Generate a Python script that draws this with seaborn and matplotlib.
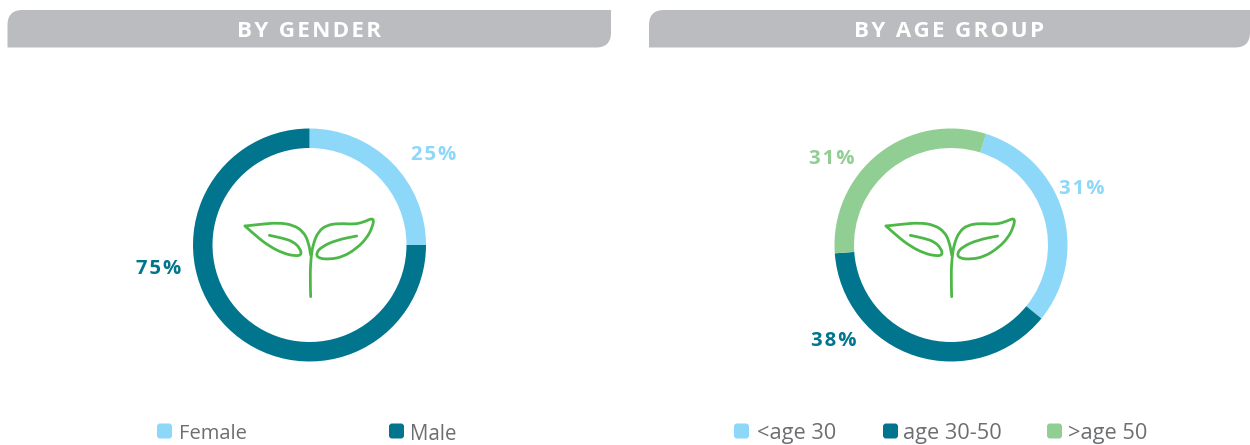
import numpy as np
import matplotlib
matplotlib.use("Agg")
import matplotlib.pyplot as plt
from matplotlib.path import Path
from matplotlib.patches import PathPatch, FancyBboxPatch
import seaborn as sns

gender_labels = ["Female", "Male"]
gender_values = [25, 75]
age_labels = ["<age 30", "age 30-50", ">age 50"]
age_values = [31, 38, 31]
titles = ["BY GENDER", "BY AGE GROUP"]

LIGHT, TEAL, GREEN = "#8DD7F9", "#00758D", "#90CE93"
sns.set_theme(style="white")
plt.rcParams["font.family"] = ["Open Sans", "DejaVu Sans"]
W, H = 1250, 445
HAIR = "\u200a"
fig = plt.figure(figsize=(W / 100, H / 100), dpi=100, facecolor="white")
bg = fig.add_axes([0, 0, 1, 1])
bg.set_xlim(0, W); bg.set_ylim(H, 0); bg.axis("off")

def header(x0, x1, y0, y1, r, text):
    verts = [(x0, y1), (x0, y0 + r), (x0, y0), (x0 + r, y0), (x1, y0), (x1, y1 - r),
             (x1, y1), (x1 - r, y1), (x0, y1), (x0, y1)]
    codes = [Path.MOVETO, Path.LINETO, Path.CURVE3, Path.CURVE3, Path.LINETO, Path.LINETO,
             Path.CURVE3, Path.CURVE3, Path.LINETO, Path.CLOSEPOLY]
    bg.add_patch(PathPatch(Path(verts, codes), fc="#BBBCBF", ec="none"))
    bg.text((x0 + x1) / 2, (y0 + y1) / 2 + 2.5, HAIR.join(text), color="white", fontsize=16.2,
            fontweight="bold", ha="center", va="center")

header(7.5, 611, 10, 47.5, 15, titles[0])
header(649, 1250, 10, 47.5, 15, titles[1])

def donut(cx, cy, values, colors, start):
    R = 116.5
    ax = fig.add_axes([(cx - R) / W, 1 - (cy + R) / H, 2 * R / W, 2 * R / H])
    ax.pie(values, colors=colors, startangle=start, counterclock=False, radius=1,
           wedgeprops=dict(width=19.5 / R, linewidth=0))
    ax.set_xlim(-1, 1); ax.set_ylim(-1, 1)
    ax.set_aspect("equal"); ax.axis("off")

donut(309.5, 245, gender_values, [LIGHT, TEAL], 90)
donut(951, 245, age_values, [LIGHT, TEAL, GREEN], 72.5)

fg = fig.add_axes([0, 0, 1, 1], facecolor="none")
fg.set_xlim(0, W); fg.set_ylim(H, 0); fg.axis("off")

def smooth(pts):
    pts = np.asarray(pts, float)
    v = [pts[0]]; c = [Path.MOVETO]
    for i in range(1, len(pts) - 1):
        v += [pts[i], (pts[i] + pts[i + 1]) / 2]
        c += [Path.CURVE3, Path.CURVE3]
    v.append(pts[-1]); c.append(Path.LINETO)
    return Path(v, c)

# sprout icon outline, offsets in pixels from the donut centre
left_leaf = [(75,108),(120,103),(175,98),(220,105),(250,125),(265,155),(272,195)]
left_low = [(75,108),(110,140),(150,170),(190,190),(225,198),(245,195),(240,175),(220,155),(190,145),(148,136)]
right_leaf = [(272,320),(270,260),(273,200),(280,160),(295,125),(320,105),(360,100),(400,103),(430,97),(462,82),
              (458,110),(440,145),(410,175),(370,200),(330,208),(295,205),(288,190),(305,170),(350,150),(410,138)]

def sprout(cx, cy):
    for part in (left_leaf, left_low, right_leaf):
        p = [(cx + (220 + x / 3 - 309.5), cy + (190 + y / 3 - 245)) for x, y in part]
        fg.add_patch(PathPatch(smooth(p), fc="none", ec="#4DB848", lw=2.0, capstyle="round", joinstyle="round"))

sprout(309.5, 245)
sprout(950.5, 245)

def pct(x, y, v, color):
    fg.text(x, y, HAIR.join(f"{v}%"), color=color, fontsize=14.6, fontweight="bold", ha="center", va="center")

pct(433.5, 155.5, gender_values[0], LIGHT)
pct(158.5, 269.5, gender_values[1], TEAL)
pct(1081.5, 188.5, age_values[0], LIGHT)
pct(833.5, 341.5, age_values[1], TEAL)
pct(832, 158.5, age_values[2], GREEN)

def legend(x, label, color, tx, size):
    fg.add_patch(FancyBboxPatch((x + 2, 425.5), 11, 11, boxstyle="round,pad=2,rounding_size=3", fc=color, ec="none"))
    fg.text(tx, 434, label, color="#6D6E71", fontsize=size, ha="left", va="center")

legend(157, gender_labels[0], LIGHT, 179, 14.5)
legend(389, gender_labels[1], TEAL, 410, 14.8)
legend(734, age_labels[0], LIGHT, 757, 15.7)
legend(883, age_labels[1], TEAL, 903, 15.7)
legend(1047, age_labels[2], GREEN, 1068, 15.7)

fig.savefig("out.png", dpi=100, facecolor="white")
